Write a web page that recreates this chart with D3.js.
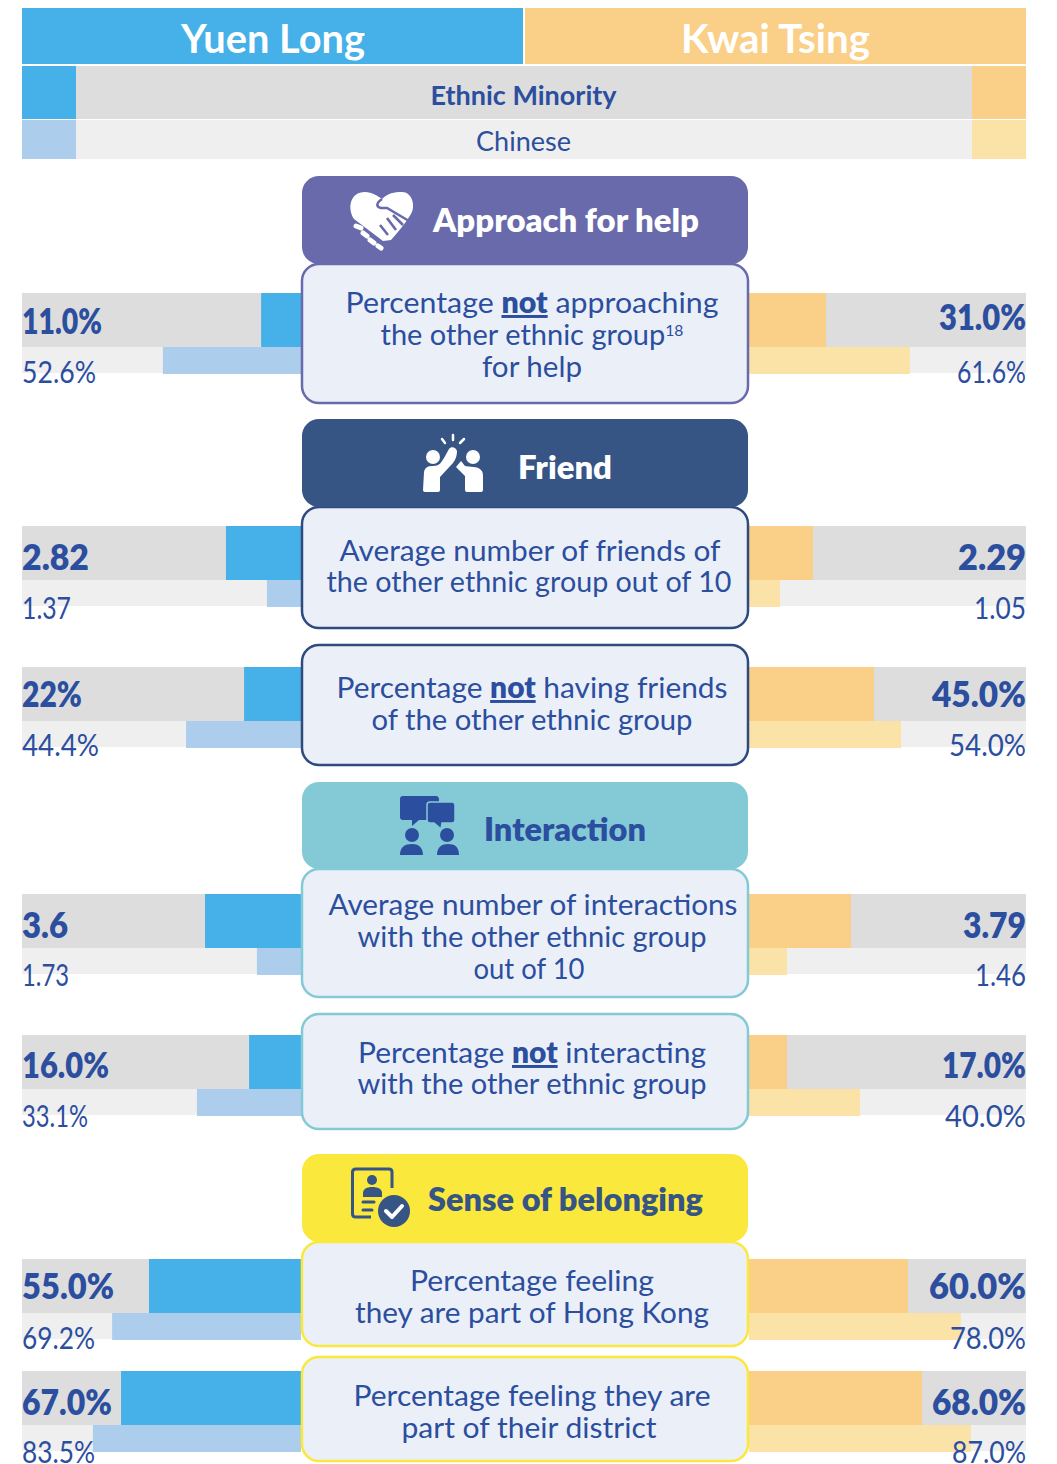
<!DOCTYPE html>
<html>
<head>
<meta charset="utf-8">
<script src="https://cdn.jsdelivr.net/npm/d3@7"></script>
<style>
    html, body { margin: 0; background: #fff; }
    svg { display: block; }
    text { font-family: Lato, "Noto Sans", sans-serif; fill: #2b4e9f; }
</style>
</head>
<body>
<div id="chart"></div>
<script>
const districts = ['Yuen Long', 'Kwai Tsing'];
const groups = ['Ethnic Minority', 'Chinese'];

// printed numbers
const yuenLongMinorityLabels = ['11.0%', '2.82', '22%', '3.6', '16.0%', '55.0%', '67.0%'];
const yuenLongChineseLabels = ['52.6%', '1.37', '44.4%', '1.73', '33.1%', '69.2%', '83.5%'];
const kwaiTsingMinorityLabels = ['31.0%', '2.29', '45.0%', '3.79', '17.0%', '60.0%', '68.0%'];
const kwaiTsingChineseLabels = ['61.6%', '1.05', '54.0%', '1.46', '40.0%', '78.0%', '87.0%'];

// bar lengths as drawn in the picture, in % of the track. they don't sit exactly on the printed numbers
const yuenLongMinority = [14.3, 26.9, 20.4, 34.4, 18.6, 54.5, 64.5];
const yuenLongChinese = [49.5, 12.2, 41.2, 15.8, 37.3, 67.7, 74.6];
const kwaiTsingMinority = [27.8, 23.1, 45.1, 36.8, 13.7, 57.4, 62.5];
const kwaiTsingChinese = [58.1, 11.2, 54.9, 13.7, 40.1, 76.5, 80.1];

const sections = ['Approach for help', 'Friend', 'Interaction', 'Sense of belonging'];

const width = 1057, height = 1464;
const colors = {
    blue: '#45b1e8', lightBlue: '#accdec', orange: '#facf87', lightOrange: '#fbe3a8',
    grey: '#dddddd', lightGrey: '#efefef', ink: '#2b4e9f', box: '#ebf0f8'
};

const svg = d3.select('#chart').append('svg').attr('width', width).attr('height', height);

const xLeft = d3.scaleLinear().domain([0, 100]).range([301, 22]);
const xRight = d3.scaleLinear().domain([0, 100]).range([749, 1026]);

// layout of the rows
const sectionLayout = [
    { y: 176, h: 88, fill: '#696aab', color: '#fff', tx: 566, ty: 232, w: 266 },
    { y: 419, h: 88, fill: '#365484', color: '#fff', tx: 565, ty: 479, w: 94 },
    { y: 782, h: 87, fill: '#84cad6', color: '#2b4e9f', tx: 565, ty: 841, w: 162 },
    { y: 1154, h: 88, fill: '#fae83c', color: '#365484', tx: 565.5, ty: 1211, w: 275 }
];
// wl, wr etc are the drawn widths of the number labels, dy the small offsets between rows
const rowLayout = [
    { top: 293, box: [264, 403], stroke: '#696aab', dyL: 1, dyR: 0, dyS: 0, wl: [80, 74], wr: [87, 69] },
    { top: 526, box: [507, 628], stroke: '#2e4a7e', dyL: 4, dyR: 7, dyS: 3, wl: [67, 49], wr: [68, 52] },
    { top: 667, box: [645, 765], stroke: '#2e4a7e', dyL: 0, dyR: 3, dyS: -1, wl: [60, 77], wr: [94, 77] },
    { top: 894, box: [869, 997], stroke: '#84cad6', dyL: 4, dyR: 7, dyS: 2, wl: [46, 47], wr: [63, 51] },
    { top: 1035, box: [1014, 1129], stroke: '#84cad6', dyL: 3, dyR: 6, dyS: 2, wl: [87, 66], wr: [84, 81] },
    { top: 1259, box: [1242, 1346], stroke: '#fae83c', dyL: 0, dyR: 3, dyS: 0, wl: [92, 73], wr: [97, 76] },
    { top: 1371, box: [1357, 1461], stroke: '#fae83c', dyL: 4, dyR: 7, dyS: 2, wl: [90, 73], wr: [94, 74] }
];
// [x, baseline, width, parts] , a part is plain text, or {b} bold underlined, or {s} superscript
const boxText = [
    [[532, 313, 373, ['Percentage ', { b: 'not' }, ' approaching']], [532, 345, 303, ['the other ethnic group', { s: '18' }]], [532, 377, 100, ['for help']]],
    [[530, 561, 381, ['Average number of friends of']], [529, 592, 405, ['the other ethnic group out of 10']]],
    [[532, 698, 391, ['Percentage ', { b: 'not' }, ' having friends']], [532, 730, 321, ['of the other ethnic group']]],
    [[533, 915, 409, ['Average number of interactions']], [532, 947, 349, ['with the other ethnic group']], [529, 979, 111, ['out of 10']]],
    [[532, 1063, 348, ['Percentage ', { b: 'not' }, ' interacting']], [532, 1094, 349, ['with the other ethnic group']]],
    [[532, 1291, 244, ['Percentage feeling']], [532, 1323, 354, ['they are part of Hong Kong']]],
    [[532, 1406, 357, ['Percentage feeling they are']], [529, 1438, 255, ['part of their district']]]
];

// legend header
const head = svg.append('g');
head.selectAll('rect').data(districts).enter().append('rect')
    .attr('x', (d, i) => i ? 525 : 22).attr('y', 8).attr('width', 501).attr('height', 56)
    .attr('fill', (d, i) => i ? colors.orange : colors.blue);
head.selectAll('text').data(districts).enter().append('text')
    .attr('x', (d, i) => i ? 775.5 : 273).attr('y', 53).attr('text-anchor', 'middle')
    .attr('textLength', (d, i) => i ? 189 : 184).attr('lengthAdjust', 'spacingAndGlyphs')
    .attr('font-size', 40).attr('font-weight', 700).style('fill', '#fff').text(d => d);

const legend = [
    { y: 66, h: 53, l: colors.blue, r: colors.orange, m: colors.grey, weight: 700, size: 27, base: 105 },
    { y: 120, h: 39, l: colors.lightBlue, r: colors.lightOrange, m: colors.lightGrey, weight: 400, size: 27, base: 151 }
];
legend.forEach((d, i) => {
    head.append('rect').attr('x', 22).attr('y', d.y).attr('width', 54).attr('height', d.h).attr('fill', d.l);
    head.append('rect').attr('x', 76).attr('y', d.y).attr('width', 896).attr('height', d.h).attr('fill', d.m);
    head.append('rect').attr('x', 972).attr('y', d.y).attr('width', 54).attr('height', d.h).attr('fill', d.r);
    head.append('text').attr('x', 523.5).attr('y', d.base).attr('text-anchor', 'middle')
        .attr('font-size', d.size).attr('font-weight', d.weight).text(groups[i]);
});

// bars
const rows = svg.append('g').selectAll('g').data(rowLayout).enter().append('g');
const darkH = 54, lightH = 27;

rows.append('rect').attr('x', 22).attr('y', d => d.top).attr('width', 279).attr('height', darkH).attr('fill', colors.grey);
rows.append('rect').attr('x', 749).attr('y', d => d.top).attr('width', 277).attr('height', darkH).attr('fill', colors.grey);
rows.append('rect').attr('x', 22).attr('y', d => d.top + darkH).attr('width', 279).attr('height', lightH - 1).attr('fill', colors.lightGrey);
rows.append('rect').attr('x', 749).attr('y', d => d.top + darkH).attr('width', 277).attr('height', lightH - 1).attr('fill', colors.lightGrey);

rows.append('rect').attr('x', (d, i) => xLeft(yuenLongMinority[i])).attr('y', d => d.top)
    .attr('width', (d, i) => xLeft(0) - xLeft(yuenLongMinority[i])).attr('height', darkH).attr('fill', colors.blue);
rows.append('rect').attr('x', (d, i) => xLeft(yuenLongChinese[i])).attr('y', d => d.top + darkH)
    .attr('width', (d, i) => xLeft(0) - xLeft(yuenLongChinese[i])).attr('height', lightH).attr('fill', colors.lightBlue);
rows.append('rect').attr('x', xRight(0)).attr('y', d => d.top)
    .attr('width', (d, i) => xRight(kwaiTsingMinority[i]) - xRight(0)).attr('height', darkH).attr('fill', colors.orange);
rows.append('rect').attr('x', xRight(0)).attr('y', d => d.top + darkH)
    .attr('width', (d, i) => xRight(kwaiTsingChinese[i]) - xRight(0)).attr('height', lightH).attr('fill', colors.lightOrange);

const squeezed = sel => sel.attr('lengthAdjust', 'spacingAndGlyphs');
rows.append('text').attr('x', 22).attr('y', d => d.top + 40 + d.dyL).attr('font-size', 35).attr('font-weight', 800)
    .attr('textLength', d => d.wl[0]).call(squeezed).text((d, i) => yuenLongMinorityLabels[i]);
rows.append('text').attr('x', 1026).attr('y', d => d.top + 37 + d.dyR).attr('text-anchor', 'end').attr('font-size', 35).attr('font-weight', 800)
    .attr('textLength', d => d.wr[0]).call(squeezed).text((d, i) => kwaiTsingMinorityLabels[i]);
rows.append('text').attr('x', 22).attr('y', d => d.top + 90 + d.dyS).attr('font-size', 30)
    .attr('textLength', d => d.wl[1]).call(squeezed).text((d, i) => yuenLongChineseLabels[i]);
rows.append('text').attr('x', 1026).attr('y', d => d.top + 90 + d.dyS).attr('text-anchor', 'end').attr('font-size', 30)
    .attr('textLength', d => d.wr[1]).call(squeezed).text((d, i) => kwaiTsingChineseLabels[i]);

// description boxes
rows.append('rect').attr('x', 302).attr('y', d => d.box[0]).attr('width', 446).attr('height', d => d.box[1] - d.box[0])
    .attr('rx', 17).attr('fill', colors.box).attr('stroke', d => d.stroke).attr('stroke-width', 2.5);

rows.each(function (d, i) {
    const g = d3.select(this);
    boxText[i].forEach(line => {
        const t = g.append('text').attr('x', line[0]).attr('y', line[1]).attr('text-anchor', 'middle').attr('font-size', 29.5)
            .attr('textLength', line[2]).call(squeezed);
        line[3].forEach(p => {
            if (typeof p === 'string') t.append('tspan').text(p);
            else if (p.b) t.append('tspan').attr('font-weight', 800).attr('text-decoration', 'underline').text(p.b);
            else t.append('tspan').attr('font-size', 16).attr('baseline-shift', '9').text(p.s);
        });
    });
});

// section headers, on top of the boxes
const sec = svg.append('g').selectAll('g').data(sectionLayout).enter().append('g');
sec.append('rect').attr('x', 302).attr('y', d => d.y).attr('width', 446).attr('height', d => d.h).attr('rx', 17).attr('fill', d => d.fill);
sec.append('text').attr('x', d => d.tx).attr('y', d => d.ty).attr('text-anchor', 'middle')
    .attr('textLength', d => d.w).call(squeezed)
    .attr('font-size', 32).attr('font-weight', 800).style('fill', d => d.color).text((d, i) => sections[i]);

// icons
const icons = svg.append('g');
const purple = '#696aab', navy = '#365484', ink = '#2b4e9f';

const hands = icons.append('g').attr('fill', '#fff');
hands.append('path').attr('d', 'M354 219 C347 208 350 192 365 192 C372 192 378 196 382 199 C388 193 394 192 402 192 C412 192 416 206 411 214 C405 224 398 232 391 240 L383 241 Z');
hands.append('path').attr('d', 'M382 199 C376 203 376 207 381 208 L387 208 L409 221')
    .attr('fill', 'none').attr('stroke', purple).attr('stroke-width', 2.6);
hands.append('path').attr('d', 'M380 225 L388 235 M387 218 L396 230 M393 215 L403 225')
    .attr('fill', 'none').attr('stroke', purple).attr('stroke-width', 2.6);
hands.selectAll('line').data([[356, 226, 361, 228], [363, 233, 367, 236], [370, 240, 374, 243], [378, 246, 381, 248]]).enter().append('line')
    .attr('x1', d => d[0]).attr('y1', d => d[1]).attr('x2', d => d[2]).attr('y2', d => d[3])
    .attr('stroke', '#fff').attr('stroke-width', 5).attr('stroke-linecap', 'round');

const friend = icons.append('g').attr('fill', '#fff');
friend.append('circle').attr('cx', 433).attr('cy', 457).attr('r', 7);
friend.append('circle').attr('cx', 473).attr('cy', 457).attr('r', 7);
friend.append('path').attr('d', 'M423 490 L424 472 C425 467 428 466 433 466 C439 466 441 463 444 458 L449 449 C451 446 456 447 457 451 C457 455 456 459 453 463 L440 477 L440 490 Q440 492 438 492 L425 492 Q423 492 423 490 Z');
friend.append('path').attr('d', 'M456 467 L461 461 L465 466 C469 467 478 466 481 470 C483 472 483 474 483 478 L483 490 Q483 492 481 492 L467 492 Q465 492 465 490 L465 476 Z');
friend.append('path').attr('d', 'M453 435 L453 440 M442 439 L445 443 M464 439 L460 443').attr('stroke', '#fff').attr('stroke-width', 2.5).attr('stroke-linecap', 'round');

const talk = icons.append('g').attr('fill', ink);
talk.append('path').attr('d', 'M403 796 L436 796 Q439 796 439 800 L439 817 Q439 820 436 820 L419 820 L412 826 L412 820 L403 820 Q400 820 400 817 L400 799 Q400 796 403 796 Z');
talk.append('path').attr('d', 'M430 802 L452 802 Q455 802 455 805 L455 820 Q455 823 452 823 L442 823 L441 829 L434 823 L430 823 Q427 823 427 820 L427 805 Q427 802 430 802 Z')
    .attr('stroke', '#84cad6').attr('stroke-width', 1.5);
talk.selectAll('circle').data([[412, 835], [447, 835]]).enter().append('circle').attr('cx', d => d[0]).attr('cy', d => d[1]).attr('r', 7);
talk.append('path').attr('d', 'M400 855 C400 847 405 844 412 844 C418 844 423 847 423 855 Z M437 855 C437 847 442 844 448 844 C455 844 459 847 459 855 Z');

const doc = icons.append('g');
doc.append('path').attr('d', 'M392 1188 L392 1172 Q392 1169 389 1169 L356 1169 Q352.500 1169 352.500 1172 L352.500 1214 Q352.500 1217 356 1217 L371 1217')
    .attr('fill', 'none').attr('stroke', navy).attr('stroke-width', 3);
doc.append('circle').attr('cx', 372).attr('cy', 1180).attr('r', 5).attr('fill', navy);
doc.append('path').attr('d', 'M363 1197 L363 1193 C363 1189 367 1187 372 1187 C378 1187 382 1189 382 1193 L382 1197 Z').attr('fill', navy);
doc.append('path').attr('d', 'M363 1202 L374 1202 M363 1210 L372 1210').attr('stroke', navy).attr('stroke-width', 3).attr('stroke-linecap', 'round');
doc.append('circle').attr('cx', 394).attr('cy', 1211).attr('r', 16).attr('fill', navy);
doc.append('path').attr('d', 'M386 1211 L392 1217 L402 1206').attr('fill', 'none').attr('stroke', '#fff').attr('stroke-width', 4).attr('stroke-linecap', 'round').attr('stroke-linejoin', 'round');
</script>
</body>
</html>
